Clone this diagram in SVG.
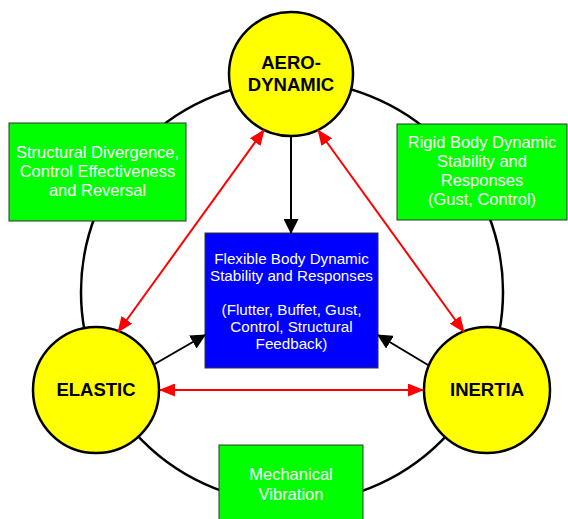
<svg xmlns="http://www.w3.org/2000/svg" width="568" height="519" viewBox="0 0 568 519">
  <defs>
    <style>
      .ring { fill: none; stroke: #000; stroke-width: 2.5; }
      .node { fill: #FFFF00; stroke: #000; stroke-width: 2.5; }
      .nlabel { font-family: "Liberation Sans", Arial, sans-serif; font-weight: bold; font-size: 18.5px; fill: #000; text-anchor: middle; }
      .gbox { fill: #00FF00; stroke: #333; stroke-width: 1; }
      .bbox { fill: #0000FF; stroke: #333; stroke-width: 1; }
      .btext { font-family: "Liberation Sans", Arial, sans-serif; font-size: 16.5px; fill: #fff; text-anchor: middle; }
      .ctext { font-family: "Liberation Sans", Arial, sans-serif; font-size: 15.2px; fill: #fff; text-anchor: middle; }
      .blk { stroke: #000; stroke-width: 2; fill: none; }
      .red { stroke: #FF0000; stroke-width: 2; fill: none; }
    </style>
    <marker id="ahB" viewBox="0 0 15 15" markerWidth="15" markerHeight="15" refX="14" refY="7.5" orient="auto" markerUnits="userSpaceOnUse">
      <path d="M0,0 L15,7.5 L0,15 z" fill="#000"/>
    </marker>
    <marker id="ahR" viewBox="0 0 16 13" markerWidth="16" markerHeight="13" refX="15" refY="6.5" orient="auto-start-reverse" markerUnits="userSpaceOnUse">
      <path d="M0,0 L16,6.5 L0,13 z" fill="#FF0000"/>
    </marker>
  </defs>

  <rect x="0" y="0" width="568" height="519" fill="#fff"/>

  <circle class="ring" cx="292" cy="292" r="211"/>

  <g id="box-structural">
    <rect class="gbox" x="9" y="123" width="177" height="98"/>
    <text class="btext" x="97.5" y="158">Structural Divergence,</text>
    <text class="btext" x="97.5" y="177">Control Effectiveness</text>
    <text class="btext" x="97.5" y="196">and Reversal</text>
  </g>

  <g id="box-rigid">
    <rect class="gbox" x="397" y="124" width="170" height="96"/>
    <text class="btext" x="482" y="148">Rigid Body Dynamic</text>
    <text class="btext" x="482" y="167">Stability and</text>
    <text class="btext" x="482" y="186">Responses</text>
    <text class="btext" x="482" y="205">(Gust, Control)</text>
  </g>

  <g id="box-mechanical">
    <rect class="gbox" x="219" y="445" width="144" height="80"/>
    <text class="btext" x="291" y="480">Mechanical</text>
    <text class="btext" x="291" y="500">Vibration</text>
  </g>

  <g id="box-flexible">
    <rect class="bbox" x="205" y="233" width="173" height="135"/>
    <text class="ctext" x="291.5" y="264">Flexible Body Dynamic</text>
    <text class="ctext" x="291.5" y="281">Stability and Responses</text>
    <text class="ctext" x="291.5" y="315">(Flutter, Buffet, Gust,</text>
    <text class="ctext" x="291.5" y="332">Control, Structural</text>
    <text class="ctext" x="291.5" y="349">Feedback)</text>
  </g>

  <g id="node-aero">
    <circle class="node" cx="291" cy="74" r="62"/>
    <text class="nlabel" x="291" y="69">AERO-</text>
    <text class="nlabel" x="291" y="91">DYNAMIC</text>
  </g>

  <g id="node-elastic">
    <circle class="node" cx="96" cy="390" r="63"/>
    <text class="nlabel" x="96" y="396">ELASTIC</text>
  </g>

  <g id="node-inertia">
    <circle class="node" cx="487" cy="390" r="63"/>
    <text class="nlabel" x="487" y="396">INERTIA</text>
  </g>

  <g id="connectors">
    <line class="blk" x1="291" y1="136" x2="291" y2="233" marker-end="url(#ahB)"/>
    <line class="blk" x1="153" y1="365" x2="205" y2="335" marker-end="url(#ahB)"/>
    <line class="blk" x1="428" y1="365" x2="378" y2="335" marker-end="url(#ahB)"/>
    <line class="red" x1="160" y1="390" x2="423" y2="390" marker-start="url(#ahR)" marker-end="url(#ahR)"/>
    <line class="red" x1="264" y1="130" x2="118" y2="332" marker-start="url(#ahR)" marker-end="url(#ahR)"/>
    <line class="red" x1="318" y1="130" x2="464" y2="332" marker-start="url(#ahR)" marker-end="url(#ahR)"/>
  </g>
</svg>
